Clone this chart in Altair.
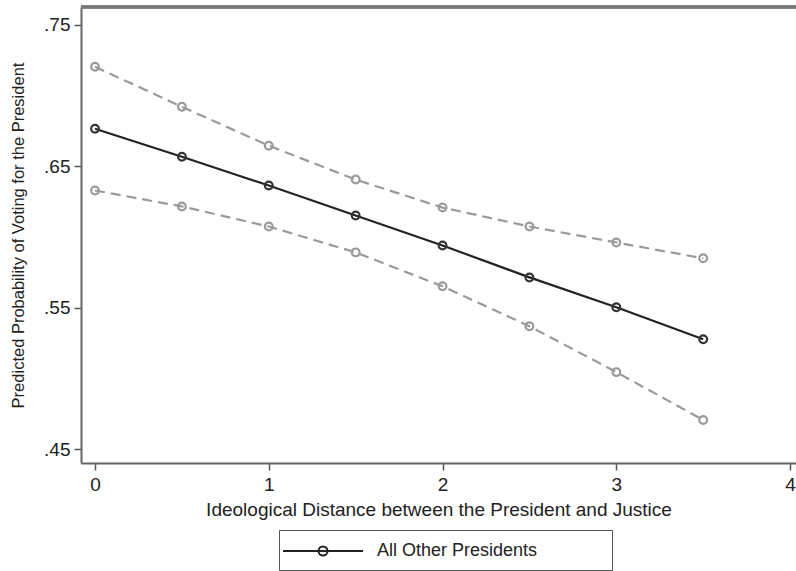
import altair as alt
import pandas as pd

# Data
distance = [0, 0.5, 1, 1.5, 2, 2.5, 3, 3.5]
estimate = [0.6766, 0.6568, 0.6364, 0.6152, 0.5940, 0.5714, 0.5503, 0.5277]
upper = [0.7204, 0.6921, 0.6646, 0.6406, 0.6208, 0.6074, 0.5961, 0.5849]
lower = [0.6329, 0.6216, 0.6074, 0.5891, 0.5651, 0.5369, 0.5044, 0.4705]
series_name = "All Other Presidents"
x_ticks = [0, 1, 2, 3, 4]
y_ticks = [0.45, 0.55, 0.65, 0.75]

FONT = "Liberation Sans"
W, H = 715, 456
X_DOM = [-0.0806, 4.034]
Y_DOM = [0.4401, 0.7627]

center = pd.DataFrame({"x": distance, "y": estimate, "series": series_name})
bands = pd.concat([
    pd.DataFrame({"x": distance, "y": upper, "band": "upper"}),
    pd.DataFrame({"x": distance, "y": lower, "band": "lower"}),
])

xs = alt.Scale(domain=X_DOM, nice=False, zero=False)
ys = alt.Scale(domain=Y_DOM, nice=False, zero=False)

x_enc = alt.X("x:Q", scale=xs,
              axis=alt.Axis(values=x_ticks, title="Ideological Distance between the President and Justice",
                            grid=False, titleFontSize=19))
y_enc = alt.Y("y:Q", scale=ys,
              axis=alt.Axis(values=y_ticks, title="Predicted Probability of Voting for the President",
                            labelExpr="replace(format(datum.value, '.2f'), /^0/, '')",
                            grid=False, titleFontSize=16.5))

band_lines = alt.Chart(bands).mark_line(
    color="#9a9a9a", strokeWidth=2.2, strokeDash=[10, 6]
).encode(x=x_enc, y=y_enc, detail="band:N")

band_pts = alt.Chart(bands).mark_point(
    shape="circle", filled=False, color="#9a9a9a", strokeWidth=2.2, size=60, opacity=1
).encode(x=x_enc, y=y_enc)

# unit = sqrt(symbolSize)/2 px ; line spans 8 units, circle radius 0.45 unit;
# the trailing move-to only widens the legend frame to the right
legend_symbol = ("M-4,0L4,0M0.45,0A0.45,0.45,0,1,1,-0.45,0"
                 "A0.45,0.45,0,1,1,0.45,0M27.5,0")

center_line = alt.Chart(center).mark_line(strokeWidth=2.2).encode(
    x=x_enc, y=y_enc,
    color=alt.Color("series:N",
                    scale=alt.Scale(domain=[series_name], range=["#222222"]),
                    legend=alt.Legend(
                        title=None, orient="none", legendX=198, legendY=523,
                        symbolType=legend_symbol, symbolSize=400,
                        symbolOffset=23,
                        symbolStrokeWidth=2, symbolFillColor="transparent",
                        symbolStrokeColor="#333333",
                        strokeColor="#555555", fillColor="white", padding=10,
                        labelOffset=43, labelFont=FONT, labelFontSize=18,
                        labelColor="#222222", labelLimit=500,
                    )),
)

center_pts = alt.Chart(center).mark_point(
    shape="circle", filled=False, color="#333333", strokeWidth=2.2, size=60, opacity=1
).encode(x=x_enc, y=y_enc)

top_border = alt.Chart(center).mark_rule(color="#777777", strokeWidth=2.5).encode(
    x=alt.value(0), x2=alt.value(W), y=alt.value(0)
)

chart = alt.layer(top_border, band_lines, band_pts, center_line, center_pts).properties(
    width=W, height=H,
    autosize=alt.AutoSizeParams(type="none"),
    padding={"left": 81, "top": 7, "right": 0, "bottom": 108},
).configure_view(stroke=None).configure_axis(
    domainColor="#666666", domainWidth=2,
    tickColor="#555555", tickWidth=1.5, tickSize=7,
    labelFont=FONT, labelFontSize=19, labelColor="#222222", labelPadding=4,
    titleFont=FONT, titleColor="#222222", titleFontWeight="normal",
).configure_axisX(titlePadding=6, labelPadding=5).configure_axisY(titlePadding=17)

chart.save("out.html", embed_options={"renderer": "svg", "actions": False})
